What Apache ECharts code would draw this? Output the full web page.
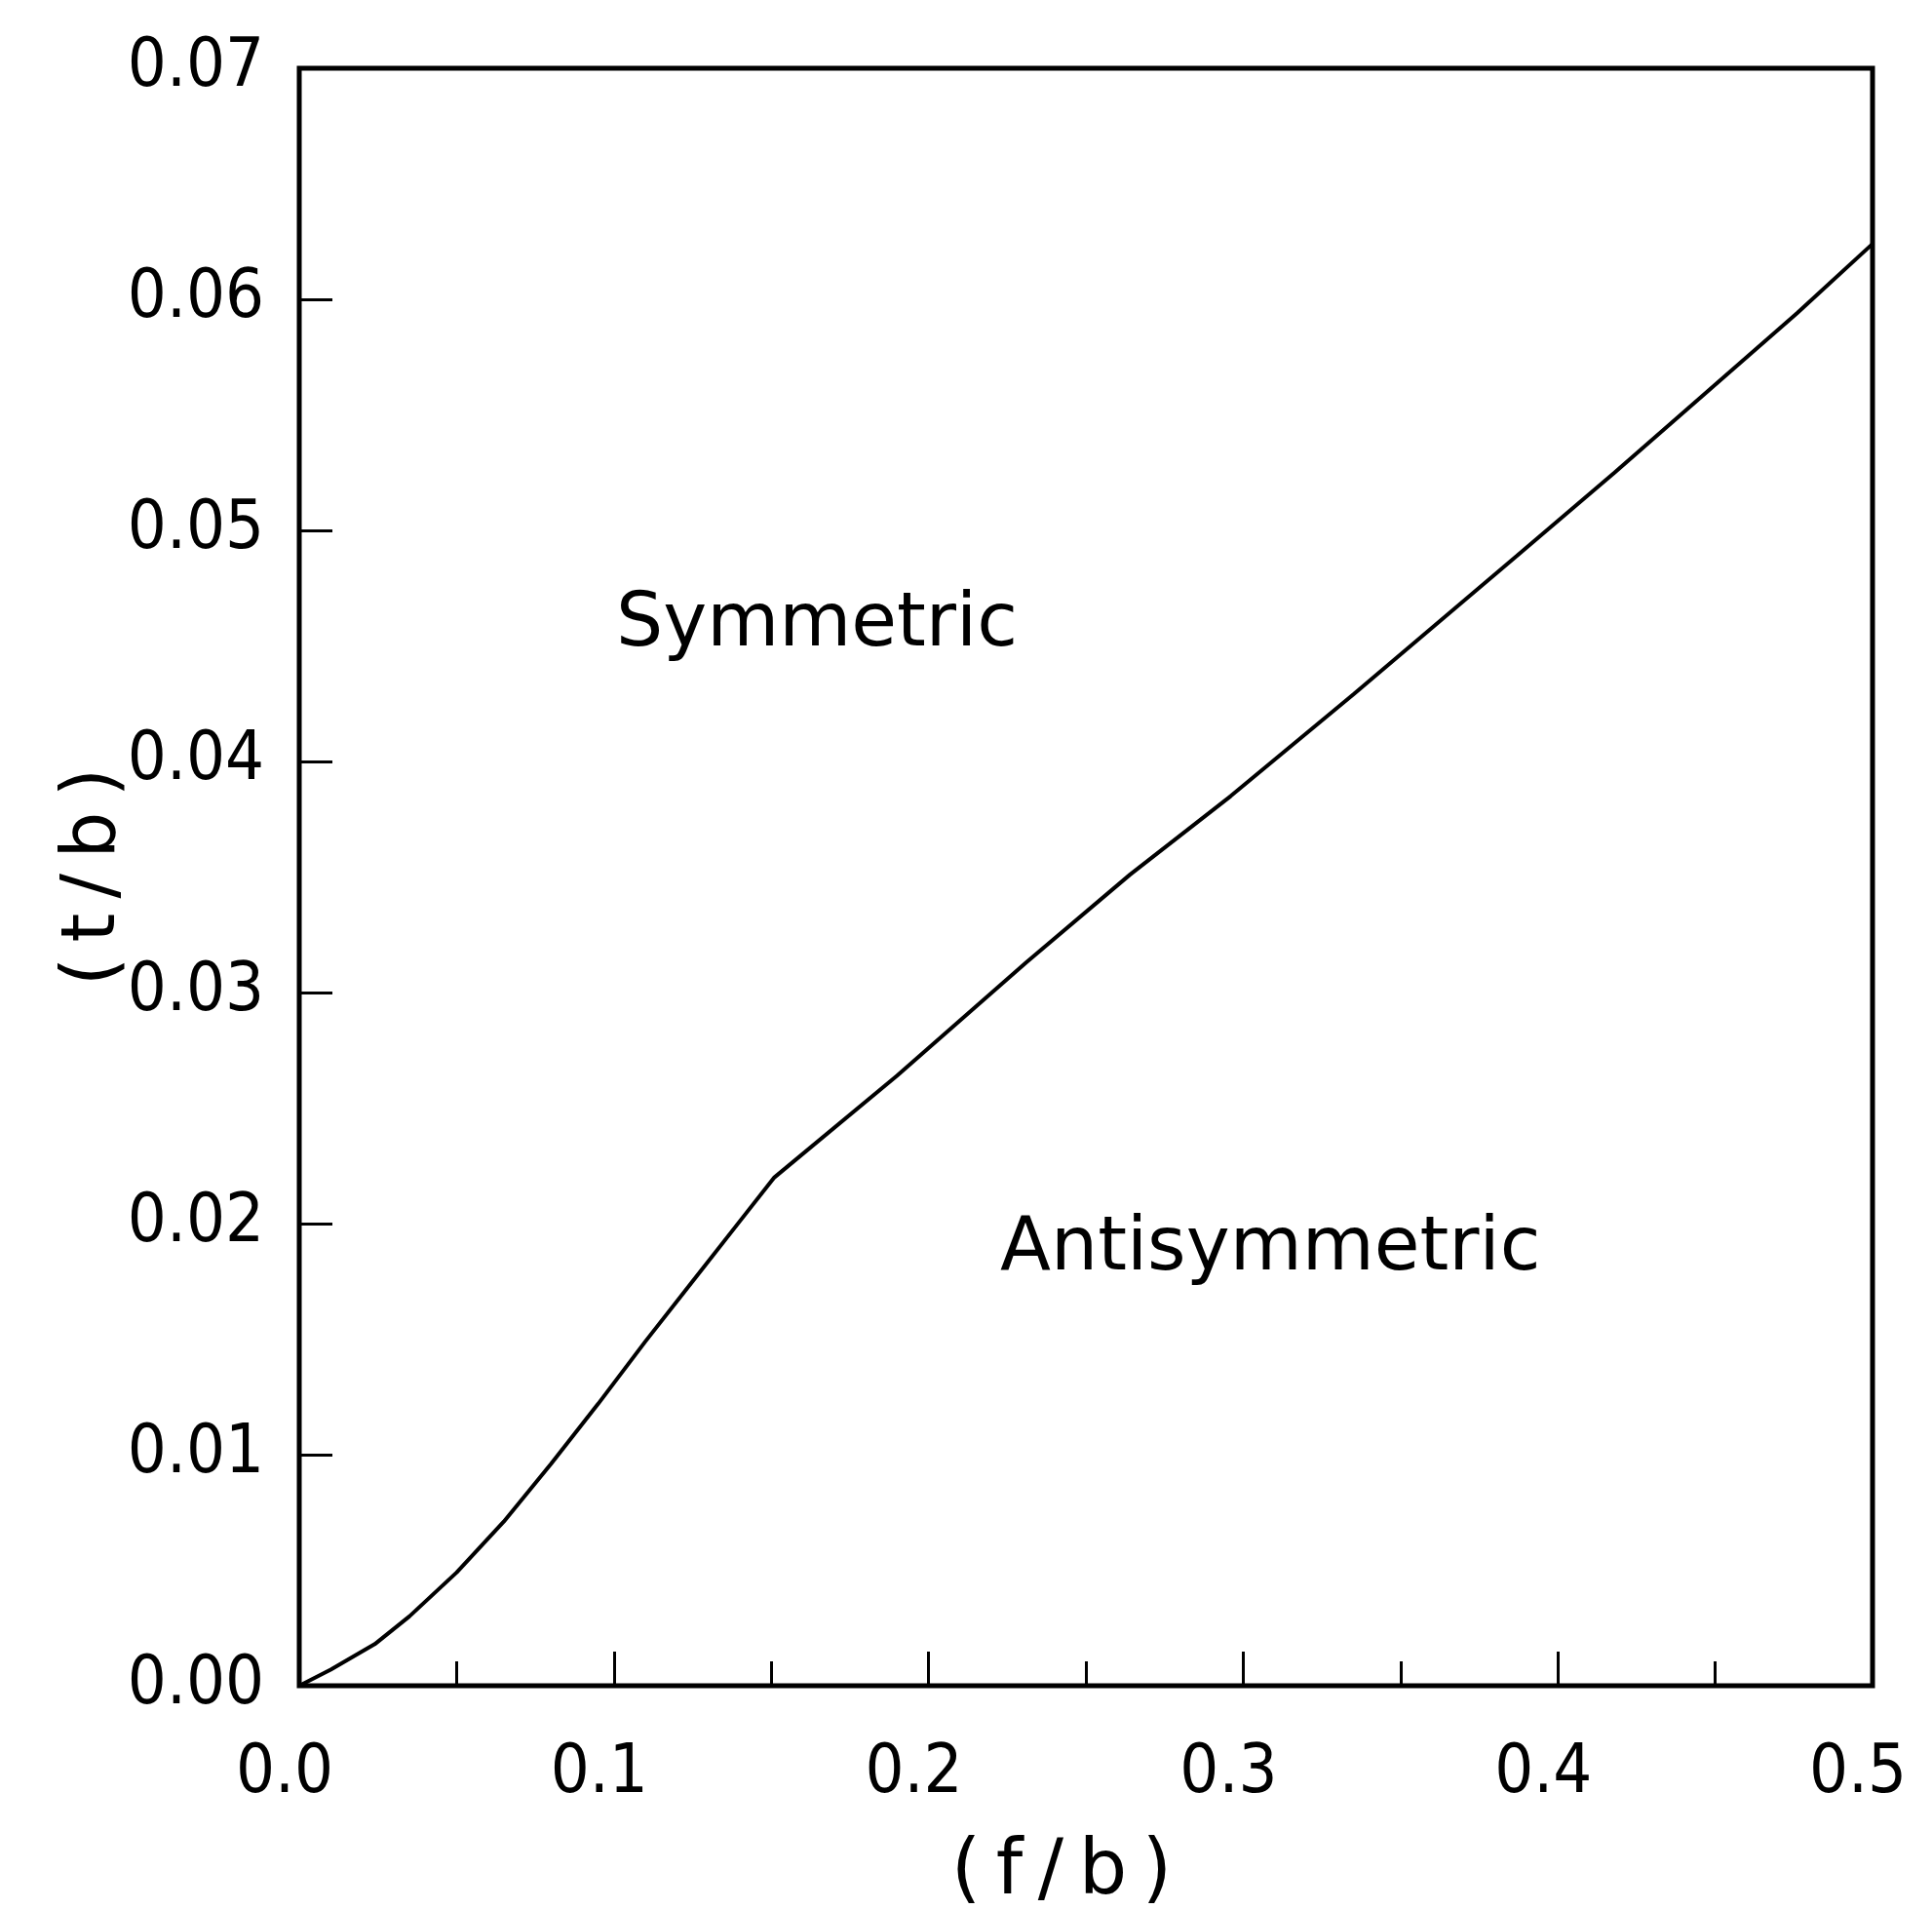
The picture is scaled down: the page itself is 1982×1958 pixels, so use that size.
<!DOCTYPE html>
<html>
<head>
<meta charset="utf-8">
<title>t/b vs f/b</title>
<script src="https://cdn.jsdelivr.net/npm/echarts@6.0.0/dist/echarts.min.js"></script>
<style>
  html, body { margin: 0; padding: 0; background: #fff; }
  #main { width: 1982px; height: 1958px; }
</style>
</head>
<body>
<div id="main"></div>
<script>
// boundary curve
var fb = [0, 0.01, 0.024, 0.035, 0.05, 0.065, 0.08, 0.095, 0.11, 0.125, 0.14, 0.151, 0.19, 0.231, 0.264, 0.296, 0.335, 0.387, 0.418, 0.476, 0.5];
var tb = [0, 0.0007, 0.0018, 0.0030, 0.0049, 0.0071, 0.0096, 0.0122, 0.0149, 0.0175, 0.0201, 0.0220, 0.0264, 0.0313, 0.0351, 0.0385, 0.0429, 0.0489, 0.0525, 0.0594, 0.0624];

var xTicks = [0, 0.1, 0.2, 0.3, 0.4, 0.5];
var yTicks = [0, 0.01, 0.02, 0.03, 0.04, 0.05, 0.06, 0.07];

var regionText = ['Symmetric', 'Antisymmetric'];

var lineData = [];
for (var i = 0; i < fb.length; i++) {
    lineData.push([fb[i], tb[i]]);
}

var tickFont = '"DejaVu Sans Condensed", "DejaVu Sans", sans-serif';
var textFont = '"DejaVu Sans", sans-serif';

var myChart = echarts.init(document.getElementById('main'));
var option = {
    animation: false,
    backgroundColor: '#fff',
    grid: {
        left: 307,
        right: 61,
        top: 70,
        bottom: 229,
        outerBoundsMode: 'none',
        show: true,
        borderColor: '#000',
        borderWidth: 5
    },
    xAxis: {
        type: 'value',
        min: xTicks[0],
        max: xTicks[xTicks.length - 1],
        interval: 0.1,
        name: '(\u2009f\u2009/\u2009b\u2009)',
        nameLocation: 'middle',
        nameGap: 154,
        nameMoveOverlap: false,
        nameTextStyle: { fontFamily: textFont, fontSize: 78, color: '#000', padding: [0, 50, 0, 0] },
        axisLine: { lineStyle: { color: '#000', width: 4 } },
        axisTick: { inside: true, length: 35, lineStyle: { color: '#000', width: 3 } },
        minorTick: { show: true, splitNumber: 2, length: 25, lineStyle: { color: '#000', width: 3 } },
        axisLabel: {
            margin: 56,
            padding: [0, 30, 0, 0],
            fontFamily: tickFont,
            fontSize: 70,
            color: '#000',
            formatter: function (v) { return v.toFixed(1); }
        },
        splitLine: { show: false }
    },
    yAxis: {
        type: 'value',
        min: yTicks[0],
        max: yTicks[yTicks.length - 1],
        interval: 0.01,
        name: '(\u2009t\u2009/\u2009b\u2009)',
        nameLocation: 'middle',
        nameGap: 172,
        nameMoveOverlap: false,
        nameTextStyle: { fontFamily: textFont, fontSize: 76, color: '#000' },
        axisLine: { show: true, lineStyle: { color: '#000', width: 4 } },
        axisTick: { inside: true, length: 34, lineStyle: { color: '#000', width: 3 } },
        axisLabel: {
            margin: 36,
            fontFamily: tickFont,
            fontSize: 70,
            color: '#000',
            formatter: function (v) { return v.toFixed(2); }
        },
        splitLine: { show: false }
    },
    graphic: [
        {
            type: 'text',
            left: 632,
            top: 604,
            style: { text: regionText[0], font: '76px ' + textFont, fill: '#000' }
        },
        {
            type: 'text',
            left: 1026,
            top: 1244,
            style: { text: regionText[1], font: '76px ' + textFont, fill: '#000' }
        }
    ],
    series: [
        {
            type: 'line',
            data: lineData,
            showSymbol: false,
            smooth: false,
            lineStyle: { color: '#000', width: 4 }
        }
    ]
};
myChart.setOption(option);
</script>
</body>
</html>
